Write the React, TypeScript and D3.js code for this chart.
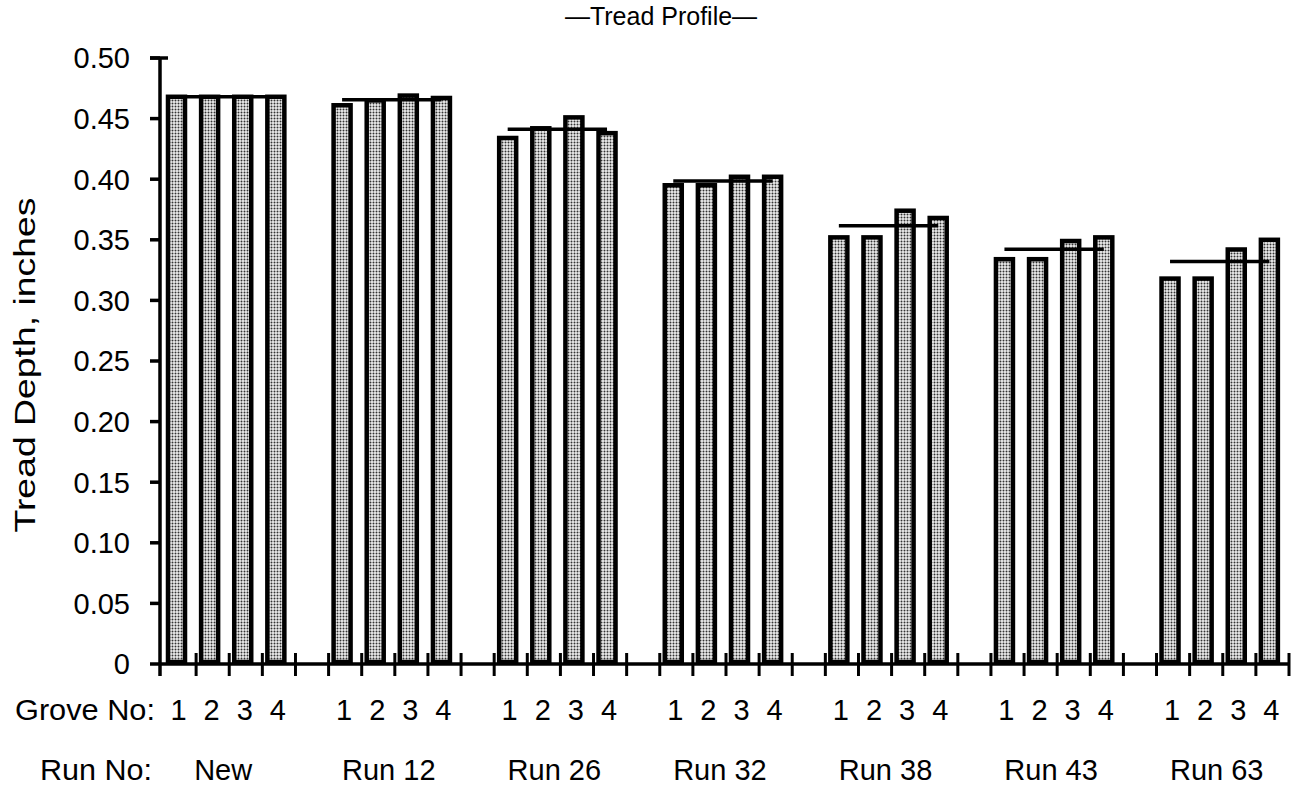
import React from "react";
import * as d3 from "d3";

const runs = ["New", "Run 12", "Run 26", "Run 32", "Run 38", "Run 43", "Run 63"];
const groves = ["1", "2", "3", "4"];
const depthNew = [0.468, 0.468, 0.468, 0.468];
const depthRun12 = [0.461, 0.465, 0.469, 0.467];
const depthRun26 = [0.434, 0.442, 0.451, 0.438];
const depthRun32 = [0.395, 0.395, 0.402, 0.402];
const depthRun38 = [0.352, 0.352, 0.374, 0.368];
const depthRun43 = [0.334, 0.334, 0.349, 0.352];
const depthRun63 = [0.318, 0.318, 0.342, 0.350];
const depths = [depthNew, depthRun12, depthRun26, depthRun32, depthRun38, depthRun43, depthRun63];
const yTicks = [0, 0.05, 0.1, 0.15, 0.2, 0.25, 0.3, 0.35, 0.4, 0.45, 0.5];

const FONT = '"Liberation Sans", Arial, Helvetica, sans-serif';

export default function App() {
  const W = 1303, H = 789;
  const slotsPerGroup = 5;
  const totalSlots = runs.length * slotsPerGroup - 1;
  const x = d3.scaleLinear().domain([0, totalSlots]).range([163, 1289]);
  const y = d3.scaleLinear().domain([0, 0.5]).range([664, 58]);
  const barOff = 5;
  const barW = 17;
  const axisX = 160;
  const axisY = y(0);

  const slotIdx = (g: number, i: number) => g * slotsPerGroup + i;
  const barCenter = (g: number, i: number) => x(slotIdx(g, i)) + barOff + barW / 2;

  return (
    <svg width={W} height={H} style={{ position: "absolute", left: 0, top: 0, background: "#fff" }} fontFamily={FONT}>
      <defs>
        <pattern id="stip" width={3} height={3} patternUnits="userSpaceOnUse">
          <rect width={3} height={3} fill="#eeeeee" />
          <circle cx={1.5} cy={1.5} r={1.0} fill="#333" />
        </pattern>
      </defs>
      <rect width={W} height={H} fill="#fff" />

      {/* title */}
      <text x={661} y={25} fontSize={25} textAnchor="middle">—Tread Profile—</text>

      {/* y-axis label */}
      <text transform={`translate(35, 365) rotate(-90)`} fontSize={29} textAnchor="middle" textLength={335} lengthAdjust="spacingAndGlyphs">Tread Depth, inches</text>

      {/* bars */}
      {depths.map((vals, g) =>
        vals.map((v, i) => (
          <rect
            key={`b${g}-${i}`}
            x={x(slotIdx(g, i)) + barOff}
            y={y(v)}
            width={barW}
            height={axisY - y(v) - 2}
            fill="url(#stip)"
            stroke="#000"
            strokeWidth={4.5}
          />
        ))
      )}

      {/* mean lines */}
      {depths.map((vals, g) => {
        const m = d3.mean(vals) as number;
        return (
          <line key={`m${g}`} x1={barCenter(g, 0)} x2={barCenter(g, 3)} y1={y(m)} y2={y(m)} stroke="#000" strokeWidth={3.5} />
        );
      })}

      {/* y axis */}
      <line x1={axisX} x2={axisX} y1={y(0.5)} y2={axisY + 12} stroke="#000" strokeWidth={3.5} />
      <line x1={150} x2={168} y1={y(0.5)} y2={y(0.5)} stroke="#000" strokeWidth={3.5} />
      {yTicks.map((t) => (
        <g key={`yt${t}`}>
          <line x1={150} x2={axisX} y1={y(t)} y2={y(t)} stroke="#000" strokeWidth={3.5} />
          <text x={130} y={y(t)} dy="0.36em" fontSize={29} textAnchor="end">
            {t === 0 ? "0" : d3.format(".2f")(t)}
          </text>
        </g>
      ))}

      {/* x axis */}
      <line x1={axisX} x2={x(totalSlots) + 1} y1={axisY} y2={axisY} stroke="#000" strokeWidth={3.5} />
      {d3.range(1, totalSlots + 1).map((s) => (
        <line key={`xt${s}`} x1={x(s)} x2={x(s)} y1={axisY - 11} y2={axisY + 12} stroke="#000" strokeWidth={3} />
      ))}

      {/* grove row */}
      <text x={15} y={720} fontSize={29} textLength={140} lengthAdjust="spacingAndGlyphs">Grove No:</text>
      {runs.map((r, g) =>
        groves.map((gr, i) => (
          <text key={`gn${g}-${i}`} x={barCenter(g, i) + 2} y={720} fontSize={29} textAnchor="middle">{gr}</text>
        ))
      )}

      {/* run row */}
      <text x={40} y={780} fontSize={29} textLength={112} lengthAdjust="spacingAndGlyphs">Run No:</text>
      {runs.map((r, g) => (
        <text key={`rn${g}`} x={(barCenter(g, 0) + barCenter(g, 3)) / 2 - 3} y={780} fontSize={29} textAnchor="middle">{r}</text>
      ))}
    </svg>
  );
}
